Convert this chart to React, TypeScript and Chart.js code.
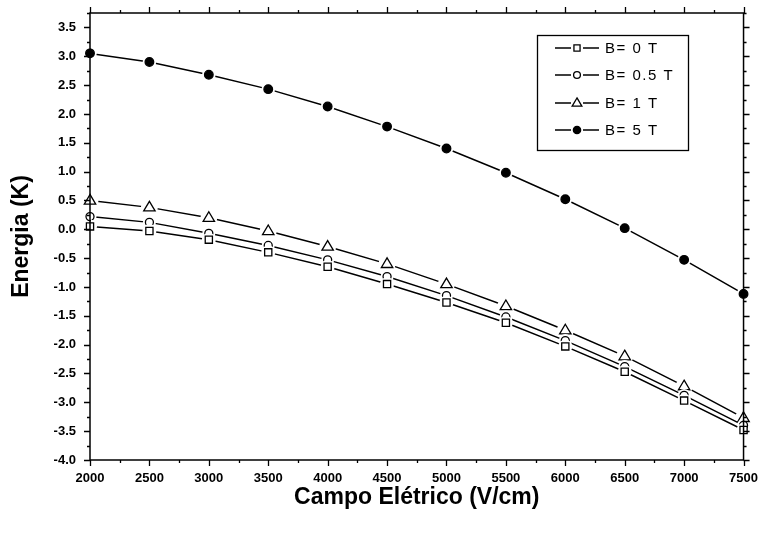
import React, { useEffect, useRef } from "react";
import { Chart, registerables } from "chart.js";

Chart.register(...registerables);

const fieldValues = [2000, 2500, 3000, 3500, 4000, 4500, 5000, 5500, 6000, 6500, 7000, 7500];
const energyB0 = [0.05, -0.03, -0.18, -0.4, -0.65, -0.95, -1.27, -1.62, -2.03, -2.47, -2.97, -3.48];
const energyB05 = [0.22, 0.12, -0.07, -0.28, -0.53, -0.82, -1.15, -1.52, -1.93, -2.38, -2.88, -3.4];
const energyB1 = [0.5, 0.38, 0.2, -0.03, -0.3, -0.6, -0.95, -1.33, -1.75, -2.2, -2.72, -3.27];
const energyB5 = [3.05, 2.9, 2.68, 2.43, 2.13, 1.78, 1.4, 0.98, 0.52, 0.02, -0.53, -1.12];
const seriesLabels = ["B= 0 T", "B= 0.5 T", "B= 1 T", "B= 5 T"];

const FONT = "'Liberation Sans', Arial, sans-serif";

const toPoints = (ys: number[]) => fieldValues.map((x, i) => ({ x, y: ys[i] }));

function drawMarker(ctx: any, style: string, x: number, y: number, r: number, fill: string) {
  ctx.save();
  ctx.lineWidth = 1.3;
  ctx.strokeStyle = "#000";
  ctx.fillStyle = fill;
  ctx.beginPath();
  if (style === "rect") {
    const s = r * 0.8;
    ctx.rect(x - s, y - s, 2 * s, 2 * s);
  } else if (style === "triangle") {
    ctx.moveTo(x, y - r);
    ctx.lineTo(x + r * 0.95, y + r * 0.6);
    ctx.lineTo(x - r * 0.95, y + r * 0.6);
    ctx.closePath();
  } else {
    ctx.arc(x, y, r, 0, Math.PI * 2);
  }
  ctx.fill();
  ctx.stroke();
  ctx.restore();
}

const tickPlugin = {
  id: "outerTicks",
  afterDraw(chart: any) {
    const ctx = chart.ctx;
    const { left, right, top, bottom } = chart.chartArea;
    const xs = chart.scales.x;
    const ys = chart.scales.y;
    ctx.save();
    ctx.strokeStyle = "#000";
    ctx.lineWidth = 1.3;
    for (let v = 2000; v <= 7500 + 1e-6; v += 250) {
      const px = Math.round(xs.getPixelForValue(v)) + 0.5;
      const len = Math.abs(v % 500) < 1e-6 ? 6 : 3;
      ctx.beginPath();
      ctx.moveTo(px, bottom);
      ctx.lineTo(px, bottom + len);
      ctx.moveTo(px, top);
      ctx.lineTo(px, top - len);
      ctx.stroke();
    }
    for (let v = -4; v <= 3.75 + 1e-6; v += 0.25) {
      const py = Math.round(ys.getPixelForValue(v)) + 0.5;
      const r = Math.round(v * 2);
      const len = Math.abs(v * 2 - r) < 1e-6 ? 6 : 3;
      ctx.beginPath();
      ctx.moveTo(left, py);
      ctx.lineTo(left - len, py);
      ctx.moveTo(right, py);
      ctx.lineTo(right + len, py);
      ctx.stroke();
    }
    ctx.lineWidth = 1.5;
    ctx.strokeRect(left, top, right - left, bottom - top);

    // legend box
    const bx = 537, by = 35, bw = 151, bh = 115;
    ctx.lineWidth = 1.3;
    ctx.strokeRect(bx + 0.5, by + 0.5, bw, bh);
    const rowsY = [48, 75, 103, 130];
    chart.data.datasets.forEach((ds: any, i: number) => {
      const y = rowsY[i];
      ctx.beginPath();
      ctx.lineWidth = 1.5;
      ctx.moveTo(555, y);
      ctx.lineTo(571, y);
      ctx.moveTo(583, y);
      ctx.lineTo(599, y);
      ctx.stroke();
      drawMarker(ctx, ds.pointStyle, 577, y, ds.pointRadius * 0.85, ds.pointBackgroundColor);
      ctx.fillStyle = "#000";
      ctx.font = `15px ${FONT}`;
      (ctx as any).letterSpacing = "1.5px";
      ctx.textBaseline = "middle";
      ctx.textAlign = "left";
      ctx.fillText(ds.label, 605, y + 1);
      (ctx as any).letterSpacing = "0px";
    });
    ctx.restore();
  },
};

const gapPlugin = {
  id: "markerGaps",
  afterDatasetDraw(chart: any, args: any) {
    const ctx = chart.ctx;
    const meta = args.meta;
    const ds = chart.data.datasets[args.index];
    ctx.save();
    const ca = chart.chartArea;
    ctx.beginPath();
    ctx.rect(ca.left + 1, ca.top + 1, ca.right - ca.left - 2, ca.bottom - ca.top - 2);
    ctx.clip();
    meta.data.forEach((el: any) => {
      ctx.fillStyle = "#fff";
      ctx.beginPath();
      ctx.arc(el.x, el.y, ds.pointRadius + 2.5, 0, Math.PI * 2);
      ctx.fill();
    });
    ctx.restore();
    ctx.save();
    meta.data.forEach((el: any) => {
      drawMarker(ctx, ds.pointStyle, el.x, el.y, ds.pointRadius, ds.pointBackgroundColor);
    });
    ctx.restore();
  },
};

export default function App() {
  const ref = useRef<HTMLCanvasElement | null>(null);
  useEffect(() => {
    document.body.style.margin = "0";
    if (!ref.current) return;
    const mk = (label: string, ys: number[], style: string, radius: number, fill: string) => ({
      label,
      data: toPoints(ys),
      showLine: true,
      borderColor: "#000",
      borderWidth: 1.5,
      pointStyle: style,
      pointRadius: radius,
      pointBackgroundColor: fill,
      pointBorderColor: "#000",
      pointBorderWidth: 1.3,
      tension: 0,
    });
    const chart = new Chart(ref.current, {
      type: "scatter",
      data: {
        datasets: [
          mk(seriesLabels[0], energyB0, "rect", 4.5, "#fff"),
          mk(seriesLabels[1], energyB05, "circle", 4, "#fff"),
          mk(seriesLabels[2], energyB1, "triangle", 6, "#fff"),
          mk(seriesLabels[3], energyB5, "circle", 4.3, "#000"),
        ],
      },
      plugins: [gapPlugin, tickPlugin],
      options: {
        responsive: false,
        animation: false,
        layout: { padding: 0 },
        plugins: { legend: { display: false }, tooltip: { enabled: false } },
        scales: {
          x: {
            type: "linear",
            min: 2000,
            max: 7500,
            grid: { display: false, drawTicks: false },
            border: { display: false },
            ticks: {
              stepSize: 500,
              color: "#000",
              padding: 11,
              font: { family: FONT, size: 13, weight: "bold" },
              callback: (v: any) => String(v),
            },
            title: {
              display: true,
              text: "Campo Elétrico (V/cm)",
              color: "#000",
              font: { family: FONT, size: 23, weight: "bold" },
              padding: { top: 0, bottom: 26 },
            },
            afterFit: (s: any) => {
              s.height = 77;
            },
          },
          y: {
            type: "linear",
            min: -4,
            max: 3.75,
            grid: { display: false, drawTicks: false },
            border: { display: false },
            ticks: {
              stepSize: 0.25,
              autoSkip: false,
              color: "#000",
              padding: 14,
              font: { family: FONT, size: 13, weight: "bold" },
              callback: (v: any) => Number(v).toFixed(1),
            },
            afterBuildTicks: (s: any) => {
              s.ticks = s.ticks.filter(
                (t: any) => t.value < 3.7 && Math.abs(t.value * 2 - Math.round(t.value * 2)) < 1e-6
              );
            },
            title: {
              display: true,
              text: "Energia (K)",
              color: "#000",
              font: { family: FONT, size: 23, weight: "bold" },
              padding: { top: 8, bottom: 0 },
            },
            afterFit: (s: any) => {
              s.width = 90;
              s.paddingTop = 0;
            },
          },
          x2: {
            type: "linear",
            position: "top",
            min: 2000,
            max: 7500,
            grid: { display: false, drawTicks: false },
            border: { display: false },
            ticks: { display: false },
            afterFit: (s: any) => {
              s.height = 13;
            },
          },
          y2: {
            type: "linear",
            position: "right",
            min: -4,
            max: 3.75,
            grid: { display: false, drawTicks: false },
            border: { display: false },
            ticks: { display: false },
            afterFit: (s: any) => {
              s.width = 19;
            },
          },
        },
      },
    } as any);
    return () => chart.destroy();
  }, []);
  return (
    <div style={{ position: "absolute", left: 0, top: 0, width: 769, height: 537 }}>
      <canvas ref={ref} width={769} height={537} />
    </div>
  );
}
